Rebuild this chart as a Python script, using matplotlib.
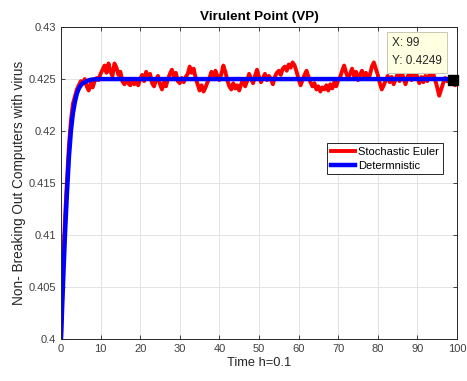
import numpy as np
import matplotlib
matplotlib.use("Agg")
import matplotlib.pyplot as plt

plt.rcParams["font.family"] = ["Liberation Sans", "DejaVu Sans"]

# stochastic euler path, sampled every 0.5 time units (t = 0 .. 100)
stoch = [
    0.4000, 0.4068, 0.4115, 0.4152, 0.4186, 0.4210, 0.4226, 0.4233, 0.4240, 0.4244,
    0.4248, 0.4246, 0.4250, 0.4243, 0.4239, 0.4246, 0.4242, 0.4248, 0.4251, 0.4249,
    0.4255, 0.4259, 0.4263, 0.4256, 0.4265, 0.4257, 0.4253, 0.4265, 0.4261, 0.4254,
    0.4257, 0.4248, 0.4245, 0.4250, 0.4246, 0.4244, 0.4249, 0.4245, 0.4248, 0.4244,
    0.4250, 0.4254, 0.4248, 0.4257, 0.4251, 0.4255, 0.4246, 0.4243, 0.4249, 0.4253,
    0.4245, 0.4240, 0.4247, 0.4243, 0.4250, 0.4255, 0.4259, 0.4252, 0.4256, 0.4248,
    0.4246, 0.4251, 0.4247, 0.4252, 0.4255, 0.4262, 0.4256, 0.4260, 0.4251, 0.4245,
    0.4239, 0.4244, 0.4238, 0.4242, 0.4247, 0.4251, 0.4257, 0.4252, 0.4258, 0.4253,
    0.4249, 0.4255, 0.4263, 0.4257, 0.4249, 0.4243, 0.4240, 0.4246, 0.4241, 0.4244,
    0.4239, 0.4245, 0.4250, 0.4243, 0.4248, 0.4255, 0.4250, 0.4246, 0.4253, 0.4259,
    0.4252, 0.4247, 0.4251, 0.4255, 0.4249, 0.4253, 0.4250, 0.4245, 0.4252, 0.4256,
    0.4258, 0.4254, 0.4260, 0.4262, 0.4258, 0.4264, 0.4261, 0.4266, 0.4263, 0.4257,
    0.4250, 0.4244, 0.4249, 0.4254, 0.4258, 0.4252, 0.4247, 0.4243, 0.4246, 0.4240,
    0.4243, 0.4238, 0.4242, 0.4240, 0.4244, 0.4239, 0.4245, 0.4241, 0.4247, 0.4243,
    0.4249, 0.4252, 0.4258, 0.4263, 0.4256, 0.4251, 0.4255, 0.4260, 0.4253, 0.4257,
    0.4249, 0.4254, 0.4258, 0.4252, 0.4256, 0.4250, 0.4254, 0.4262, 0.4266, 0.4260,
    0.4254, 0.4246, 0.4240, 0.4244, 0.4249, 0.4253, 0.4247, 0.4252, 0.4245, 0.4250,
    0.4255, 0.4248, 0.4257, 0.4251, 0.4245, 0.4252, 0.4256, 0.4249, 0.4254, 0.4259,
    0.4251, 0.4246, 0.4252, 0.4247, 0.4253, 0.4248, 0.4254, 0.4250, 0.4255, 0.4249,
    0.4242, 0.4234, 0.4240, 0.4246, 0.4251, 0.4248, 0.4250, 0.4252, 0.4249, 0.4244,
    0.4246,
]

# deterministic solution, same sampling; flat at 0.425 after the rise
determ_rise = [
    0.4000, 0.4052, 0.4100, 0.4140, 0.4175, 0.4200, 0.4217, 0.4228, 0.4236, 0.4241,
    0.4244, 0.4246, 0.4247, 0.4248, 0.42488, 0.42493, 0.42496, 0.42498, 0.42499,
]
determ = determ_rise + [0.4250] * (len(stoch) - len(determ_rise))

tip_x = 99
tip_y = 0.4249

t = np.linspace(0, 100, len(stoch))

fig = plt.figure(figsize=(4.67, 3.81), dpi=100)
ax = fig.add_axes([0.1306, 0.110, 0.848, 0.819])

ax.plot(t, stoch, color="#ff0000", lw=2.8, label="Stochastic Euler")
ax.plot(t, determ, color="#0000ff", lw=3.2, label="Determnistic")
ax.plot([tip_x], [tip_y], "s", color="black", ms=6.5, zorder=5, clip_on=False)

ax.set_xlim(0, 100)
ax.set_ylim(0.4, 0.43)
ax.set_xticks(np.arange(0, 101, 10))
ax.set_yticks([0.4, 0.405, 0.41, 0.415, 0.42, 0.425, 0.43])
ax.set_yticklabels(["0.4", "0.405", "0.41", "0.415", "0.42", "0.425", "0.43"])
ax.grid(True, color="#e3e3e3", lw=0.7)
ax.set_axisbelow(True)
ax.tick_params(direction="in", top=True, right=True, length=3, width=0.6,
               labelsize=8, colors="#262626", labelcolor="#404040")
for s in ax.spines.values():
    s.set_color("#262626")
    s.set_linewidth(0.7)

ax.set_title("Virulent Point (VP)", fontsize=9.7, fontweight="bold", color="black", pad=5)
ax.set_xlabel("Time h=0.1", fontsize=9.3, color="#262626", labelpad=2)
ax.set_ylabel("Non- Breaking Out Computers with virus", fontsize=9.8, color="#262626", labelpad=2)

leg = ax.legend(loc="upper right", bbox_to_anchor=(0.978, 0.645), fontsize=8,
                fancybox=False, framealpha=1, edgecolor="#262626",
                handlelength=2.2, borderpad=0.35, labelspacing=0.3, handletextpad=0.25)
leg.get_frame().set_linewidth(0.7)

ax.text(83.6, 0.42905, "X: 99\nY: 0.4249", fontsize=8.5, color="#262626", va="top", ha="left",
        linespacing=1.7,
        bbox=dict(boxstyle="square,pad=0.45", fc="#ffffe1", ec="#c8c8b4", lw=0.7))

fig.savefig("out.png", dpi=100)
